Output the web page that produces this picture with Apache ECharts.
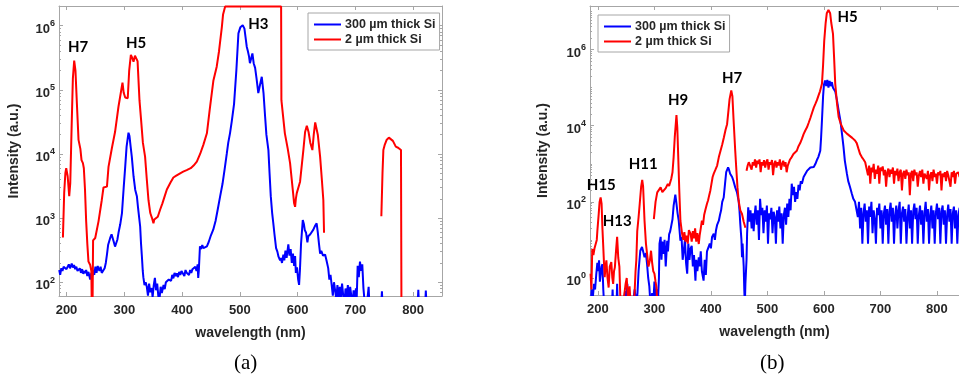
<!DOCTYPE html>
<html><head><meta charset="utf-8">
<script src="https://cdn.jsdelivr.net/npm/echarts@6/dist/echarts.min.js"></script>
<style>html,body{margin:0;padding:0;background:#fff}#c{width:959px;height:383px}</style>
</head><body><div id="c"></div>
<script>
// ---------------- data ----------------
const seriesNames = ['300 µm thick Si', '2 µm thick Si'];
const seriesColors = ['#0000ff', '#ff0000'];
const xTickLabels = [200, 300, 400, 500, 600, 700, 800];
const yTicksA = [1e2, 1e3, 1e4, 1e5, 1e6];
const yTicksB = [1e0, 1e2, 1e4, 1e6];
const captions = ['(a)', '(b)'];

const harmonicsA = ['H7', 'H5', 'H3'];
const harmonicsAWave = [220, 320.6, 532];
const harmonicsAInt = [4.7e5, 5.4e5, 1.06e6];
const harmonicsB = ['H15', 'H13', 'H11', 'H9', 'H7', 'H5'];
const harmonicsBWave = [206, 234.3, 280, 342, 437.5, 641.7];
const harmonicsBInt = [270, 31, 1000, 4.7e4, 1.8e5, 7.2e6];

// panel (a): 300 µm thick Si
const spectrumA_300um = [
[187.4,155],[189,130],[191,165],[193,150],[195,175],[198,180],[200,160],[202,175],[204,190],[206,165],
[209,195],[211,170],[213,185],[215,160],[217,175],[219,150],[221,148],[223,165],[225,140],[227,160],
[229,135],[231,150],[232,138],[234,155],[236,125],[238,145],[240,120],[241,110],[243,140],[245,125],
[246.7,155],[248,130],[250,175],[252,140],[254,180],[255,165],[257,150],[259,175],[261,140],[264,148],
[266,165],[268,200],[270,270],[272,380],[275.6,490],[278,560],[280,590],[282,420],[284,360],[286,380],
[288,460],[290,590],[293,800],[296,1200],[299,3000],[301.6,6300],[304,13000],[307.3,21500],[309,19000],
[311,13000],[313,9100],[316,4500],[319,2750],[321.8,2200],[324,1400],[327.5,740],[329,400],[330.4,260],
[332,150],[333,120],[335,90],[337,100],[339,85],[341,62],[343,95],[345,70],[347.7,81],[349,58],[351,90],
[353,117],[355,75],[357,95],[359,60],[361,55],[363,85],[365,68],[368,91],[370,78],[372,100],[375,95],
[377,110],[379,117],[381,105],[383,130],[385,115],[387,140],[389,125],[391,138],[393,120],[395,145],
[397,130],[399,150],[402,148],[404,125],[406,155],[408,140],[410,150],[412,130],[414,155],[416,140],
[418,160],[420,150],[423,175],[425,150],[427,190],[428,117],[429,150],[431,363],[433,330],[435,380],
[437,340],[440,360],[443,363],[446,420],[450,540],[454,660],[458,900],[462,1400],[466,2200],[470,3400],
[474,6000],[477.5,10200],[480,15000],[483,21000],[486,32000],[490,60000],[494,200000],[497.6,760000],
[501,950000],[505,1020000],[508,900000],[510,650000],[512,470000],[514,400000],[516,330000],[517.5,260000],
[519,245000],[521.8,370000],[524,260000],[526.5,220000],[529,150000],[532,89000],[535,120000],[538,160000],
[541,90000],[543.8,38000],[546,20000],[549.5,11500],[551.5,5000],[553.6,2200],[556,1200],[558,830],
[560,560],[562.8,340],[565,300],[567,250],[569.7,220],[571,240],[573,200],[575.4,270],[577,220],[579,310],
[581,240],[584,390],[586,260],[588,330],[590,200],[592,280],[594,180],[595.7,257],[597,140],[599,170],
[601,110],[602.6,91],[604,150],[606,400],[609,930],[611,800],[612.5,650],[614.7,590],[617,420],[618.5,520],
[620.4,490],[622,560],[625,600],[627.3,660],[630,750],[633,830],[635,600],[637,400],[639,280],[641,310],
[644,260],[647.6,270],[650,220],[653,166],[655,110],[657,130],[659,91],[661,62],[663,100],[665,102],
[667,55],[669,90],[671,50],[673,85],[675,58],[677,95],[679,62],[681,45],[683,80],[685,55],[687,90],
[689,50],[691,85],[693,62],[695,45],[697,75],[699,52],[701,80],[702.4,58],[704,180],[706,120],[708,210],
[710,150],[712,190],[714,81],[716,50],[718,30],[721,30],[723,85],[725,30],[744,30],[746,72],[748,30],
[807,30],[809,76],[811,30],[820,30],[822,74],[824,30]
];

// panel (a): 2 µm thick Si (null = no data)
const spectrumA_2um = [
[193.8,500],[196,2500],[198,5000],[199.5,6000],[202,4500],[204.7,2200],[206.5,3500],[209,30000],
[211,150000],[213.3,285000],[215.5,200000],[218,60000],[220.8,16600],[224,12000],[226,8000],[228.4,7200],
[230,6000],[232,2800],[234,900],[236,400],[238,210],[241,186],[243,150],[244.5,10],[246,450],[249.7,490],
[255.4,890],[261,1900],[264,3000],[267,2900],[270,3100],[272.7,6300],[278.5,12300],[284,22000],
[290,55000],[294,90000],[296.9,130000],[299,90000],[301.6,76000],[306,74000],[308.5,200000],[311.4,350000],
[313.5,320000],[316,275000],[318.5,340000],[320.6,350000],[323,280000],[326.3,69000],[329,35000],
[332.2,15000],[336,9100],[339,4000],[341.9,1900],[345,1200],[348,1000],[350.5,830],[352,950],[355,900],
[358,1050],[362,1350],[366,1700],[370,2200],[373.7,2800],[380,3600],[385,4300],[390,4600],[396.7,5000],
[402,5300],[408,5600],[415,6000],[420,6600],[425.6,7600],[431.3,10000],[437,14000],[443,21000],
[448,50000],[454.3,140000],[460,230000],[464,400000],[468.9,950000],[471,1500000],[474.6,2000000],
[571.5,2000000],[572,69000],[578,21000],[583,12000],[587,7200],[591.7,2750],[594,1700],[595.7,1500],
[597,2000],[598.6,2450],[604.3,3700],[610,11500],[613,22000],[616,27500],[619,22000],[622,15000],
[625.6,11500],[628,20000],[630.5,31000],[632.5,33000],[635,20000],[639,9100],[642,4000],[644.6,1900],
[645.8,590],[700,null],[745,1070],[747,5000],[748.5,11500],[751,14000],[754,16500],[758,18000],
[761.2,19000],[765,16000],[770,13000],[774,12500],[777,12000],[779,11500],[780,10]
];

// panel (b): 300 µm thick Si
const spectrumB_300um = [
[187,0.2],[189,0.5],[191,0.3],[193,0.7],[195,0.5],[197,1.2],[199,2.5],[200.5,1.5],[202,2.9],[203.5,0.8],
[205,0.8],[206.5,2],[208,2.3],[209.5,0.5],[211,0.2],[225,0.2],[226,0.5],[227,0.2],[233,0.2],[234,0.7],
[235,0.2],[246,0.2],[248,0.45],[250,0.2],[252,0.7],[254,0.2],[262,0.2],[265,0.5],[268,0.2],[270,0.4],
[272,1.55],[275,5.2],[278,6.5],[280,5],[282.5,3.5],[285,4.5],[287,2.3],[289,1],[291,0.6],[293,0.2],
[296,0.4],[298,0.2],[300,0.8],[302,0.3],[304,0.5],[306,0.2],[308,1],[309,8],[311,12],[312.5,3],[314,9],
[316.6,4.3],[318,10],[320,2],[322.6,9.5],[324,5],[326,14],[328,17],[330,18],[332,35],[334,80],[337,155],
[339,90],[341,50],[343,32],[346,9.5],[348,12],[350,3],[352,5.2],[354,10],[356,2.5],[358,1.3],[360,8],
[362,3],[364,5.9],[366,7],[368,2],[370,4],[372.6,0.85],[374,3],[376,1.5],[378.5,3.5],[380,2],[382,5],
[384,1.5],[387,0.85],[389,3],[391,1.2],[393,5],[396,5.2],[398,8],[400,6],[402,12],[405,14.5],[407,10],
[409,18],[411,25],[414,32],[416,45],[418,60],[420,100],[422.6,130],[425,300],[427,600],[430.4,800],
[432,700],[434,550],[437.5,450],[440,350],[443,240],[446,180],[449,107],[450.5,60],[452,26],[454,10],
[455,3.5],[456,8],[458,2],[459,0.5],[460,0.2],[461,0.7],[463,3],[464,14.5],[466,72],[468,30],[470,60],
[472,20],[474,50],[475.6,17],[477,40],[479,80],[481,25],[483,60],[485,10],[487,120],[489,45],[491,70],
[493,15],[495,60],[497,30],[499,80],[501,8],[503,50],[505,35],[507,70],[509,15],[511,55],[513,40],[515,8],
[517,60],[519,30],[521,75],[523,20],[525,50],[527,8],[529,45],[531,70],[533,25],[535,90],[537,40],
[539,120],[541,60],[543,300],[545,150],[547,250],[549,100],[551,180],[553,120],[555,280],[557,200],
[559,350],[561,300],[564,450],[567,500],[570,650],[573,700],[576,800],[579,900],[582,820],[585,1000],
[588,1300],[590,1500],[593.5,2200],[595,5000],[596.5,14000],[598.5,60000],[600,120000],[602,155000],
[604,110000],[606,160000],[608,100000],[610,150000],[612,110000],[614,140000],[616,100000],[618,110000],
[620,80000],[623,47000],[626,25000],[629,14000],[632,6000],[634.6,2800],[637,1200],[640.6,550],[643,350],
[646,250],[649.5,160],[652,120],[655,100],[658,90],[660,40],[662,100],[664,20],[666,70],[668,8],[670,50],
[672,90],[674,30],[676,60],[678,8],[680,75],[682,40],[684,100],[686,15],[688,60],[690,35],[692,8],
[694,70],[696,45],[698,90],[700,20],[702,60],[704,8],[706,50],[708,80],[710,25],[712,65],[714,8],
[716,55],[718,95],[720,30],[722,70],[724,8],[726,45],[728,80],[730,20],[732,60],[734,100],[736,8],
[738,50],[740,75],[742,30],[744,65],[746,8],[748,40],[750,85],[752,20],[754,60],[756,8],[758,55],
[760,90],[762,35],[764,70],[766,8],[768,45],[770,80],[772,25],[774,60],[776,8],[778,50],[780,100],
[782,30],[784,65],[786,8],[788,45],[790,80],[792,20],[794,60],[796,8],[798,50],[800,90],[802,35],
[804,70],[806,8],[808,55],[810,80],[812,25],[814,60],[816,8],[818,45],[820,85],[822,30],[824,65],
[826,8],[828,50],[830,75],[832,20],[834,60],[836,8],[838,45],[840,70]
];

// panel (b): 2 µm thick Si
const spectrumB_2um = [
[187,1.3],[188.5,0.5],[190,5.8],[192,4],[194,6],[196,6.5],[198,10],[199,17],[201.5,50],[203,100],
[204.8,130],[206.5,90],[208,20],[209.5,6.5],[211,2],[212,1.05],[213.5,2],[215,2.9],[217,1],[219,0.56],
[221,2],[223.7,2.6],[225.5,1],[227,0.7],[228.5,1.5],[230,1.9],[232,5],[234,12],[235,11],[236,3.4],
[238,2],[240,0.2],[246,0.3],[249,0.7],[251,1],[253,0.3],[256,0.6],[258,0.2],[264,0.2],[266.6,1.5],
[268,3],[269.6,17],[272,40],[274,89],[276.5,250],[278.4,380],[280,250],[282.5,32],[285,8],[287,4.3],
[289.5,2],[292,2.9],[294,5.2],[296,2.5],[298,1.5],[300,1.3],[302,0.8],[303.7,0.56],[305,0.2],
[302,null],[299,35],[302,100],[305,178],[308,200],[311,240],[314,180],[316.6,200],[320,230],[323.7,295],
[326,260],[329.7,400],[332,600],[334,1500],[336,5000],[339,19000],[340.5,9000],[342,1800],[344,200],
[346,32],[349,14.5],[351,10],[353,16],[355,9],[357,13],[359,8],[361,18],[364,14.5],[366,9],[368,17],
[370,11],[372,20],[374,9],[376,15],[378.5,7.8],[380,13],[382,20],[384,32],[386,25],[388,45],[390,60],
[393,89],[395,110],[397,150],[399,200],[401,300],[403,450],[405,550],[408,700],[411,900],[414,1500],
[417,2200],[420,3200],[423,5000],[426,8000],[428.6,11000],[431,25000],[433,50000],[436,85000],
[438,60000],[440,15000],[443,2200],[445,700],[447,240],[449,107],[452,60],[455,48],[458,30],[461,21],
[462,null],[463,660],[465,900],[467,1100],[470,1230],[472,700],[474,1100],[476,900],[478,1300],[480,800],
[482,1200],[484,1000],[486,1300],[488,600],[490,1100],[492,900],[494,1250],[496,800],[498,1100],
[500,1300],[502,700],[504,1100],[506,950],[508,1250],[510,500],[512,1000],[514,1200],[516,800],
[518,1100],[520,900],[522,1300],[524,700],[526,1000],[528,1200],[530,850],[532,1100],[534,600],[536,900],
[538,1000],[540,1300],[543,1500],[546,1800],[549,2000],[552,2200],[555,2900],[558,3500],[561,4500],
[564,6000],[567,7500],[570,9100],[573,12000],[576,16000],[579,22000],[582,30000],[585,38000],
[587.6,47000],[590,60000],[593,80000],[596.5,126000],[598.5,400000],[600.5,1700000],[603,5000000],
[605,9000000],[608,11000000],[611,9000000],[613,5000000],[616,2600000],[618,600000],[620,126000],
[623,40000],[626,17000],[630,11000],[635,7500],[640.6,6200],[645,5500],[650,4800],[655,4100],[658,3500],
[661,2500],[664,1800],[667,1500],[670,1300],[673,1100],[676,1000],[678,500],[680,900],[682,300],
[684,800],[686,600],[688,1000],[690,400],[692,700],[694,550],[696,900],[698,300],[700,800],[702,650],
[704,850],[706,500],[708,700],[710,250],[712,600],[714,750],[716,450],[718,700],[720,550],[722,800],
[724,300],[726,650],[728,500],[730,750],[732,350],[734,600],[736,700],[738,200],[740,550],[742,650],
[744,400],[746,700],[748,500],[750,600],[752,150],[754,550],[756,650],[758,350],[760,700],[762,500],
[764,600],[766,250],[768,500],[770,650],[772,450],[774,700],[776,300],[778,550],[780,600],[782,400],
[784,650],[786,200],[788,500],[790,600],[792,350],[794,700],[796,450],[798,550],[800,300],[802,600],
[804,500],[806,650],[808,200],[810,550],[812,450],[814,600],[816,350],[818,650],[820,500],[822,550],
[824,250],[826,600],[828,450],[830,650],[832,300],[834,550],[836,500],[838,600],[840,450]
];

// ---------------- chart ----------------
const FONT = '"Liberation Sans", Arial, sans-serif';
const AXIS_COL = '#a6a6a6';
const TXT_COL = '#262626';

function minorTicks(loExp, hiExp, withDecades) {
  const out = [];
  for (let k = loExp; k <= hiExp; k++) {
    for (let m = 1; m <= 9; m++) {
      if (m === 1 && !(withDecades && k % 2 !== 0)) continue;
      out.push(m * Math.pow(10, k));
    }
  }
  return out;
}
function toData(arr) { return arr.map(p => (p[1] == null ? [p[0], '-'] : p)); }

const supLabel = {
  fontFamily: FONT,
  padding: [7, 0, 0, 0],
  margin: 4,
  customValues: null,
  formatter: v => '{b|10}{s|' + Math.round(Math.log10(v)) + '}',
  rich: {
    b: { fontSize: 13, fontWeight: 'bold', color: TXT_COL, fontFamily: FONT, lineHeight: 20 },
    s: { fontSize: 9, fontWeight: 'bold', color: TXT_COL, fontFamily: FONT, lineHeight: 9, verticalAlign: 'top' }
  }
};

function xAxes(grid, min, max) {
  return [
    { type: 'value', gridIndex: grid, min: min, max: max, position: 'bottom',
      axisLine: { show: true, onZero: false, lineStyle: { color: AXIS_COL, width: 1 } },
      axisTick: { show: true, inside: true, length: 4, customValues: xTickLabels, lineStyle: { color: AXIS_COL } },
      axisLabel: { customValues: xTickLabels, fontFamily: FONT, fontSize: 13, fontWeight: 'bold', color: TXT_COL, margin: 8 },
      splitLine: { show: false },
      name: 'wavelength (nm)', nameLocation: 'middle', nameGap: 30,
      nameTextStyle: { fontFamily: FONT, fontSize: 14, fontWeight: 'bold', color: TXT_COL } },
    { type: 'value', gridIndex: grid, min: min, max: max, position: 'top',
      axisLine: { show: true, onZero: false, lineStyle: { color: AXIS_COL, width: 1 } },
      axisTick: { show: true, inside: true, length: 4, customValues: xTickLabels, lineStyle: { color: AXIS_COL } },
      axisLabel: { show: false }, splitLine: { show: false } }
  ];
}

function yAxes(grid, min, max, majors, minors, withRight, nameGap) {
  const lbl = Object.assign({}, supLabel, { customValues: majors });
  const list = [
    { type: 'log', logBase: 10, gridIndex: grid, min: min, max: max, position: 'left',
      axisLine: { show: true, onZero: false, lineStyle: { color: AXIS_COL, width: 1 } },
      axisTick: { show: true, inside: true, length: 4, customValues: majors, lineStyle: { color: AXIS_COL } },
      axisLabel: lbl, splitLine: { show: false }, minorTick: { show: false },
      name: 'Intensity (a.u.)', nameLocation: 'middle', nameGap: nameGap, nameRotate: 90,
      nameTextStyle: { fontFamily: FONT, fontSize: 14, fontWeight: 'bold', color: TXT_COL } },
    { type: 'log', logBase: 10, gridIndex: grid, min: min, max: max, position: 'left',
      axisLine: { show: false, onZero: false },
      axisTick: { show: true, inside: true, length: 2, customValues: minors, lineStyle: { color: AXIS_COL } },
      axisLabel: { show: false }, splitLine: { show: false } }
  ];
  if (withRight) {
    list.push(
      { type: 'log', logBase: 10, gridIndex: grid, min: min, max: max, position: 'right',
        axisLine: { show: true, onZero: false, lineStyle: { color: AXIS_COL, width: 1 } },
        axisTick: { show: true, inside: true, length: 4, customValues: majors, lineStyle: { color: AXIS_COL } },
        axisLabel: { show: false }, splitLine: { show: false } },
      { type: 'log', logBase: 10, gridIndex: grid, min: min, max: max, position: 'right',
        axisLine: { show: false, onZero: false },
        axisTick: { show: true, inside: true, length: 2, customValues: minors, lineStyle: { color: AXIS_COL } },
        axisLabel: { show: false }, splitLine: { show: false } });
  }
  return list;
}

function harmonicMarks(names, waves, ints) {
  return {
    symbol: 'circle', symbolSize: 1, silent: true,
    itemStyle: { color: 'rgba(0,0,0,0)' },
    label: { show: true, position: 'inside', formatter: '{b}', fontFamily: 'Lato, "Open Sans", sans-serif',
             fontWeight: 'bold', fontSize: 15, color: '#000' },
    data: names.map((n, i) => ({ name: n, coord: [waves[i], ints[i]] }))
  };
}

function lineSeries(name, color, data, xi, yi, marks) {
  const s = { name: name, type: 'line', xAxisIndex: xi, yAxisIndex: yi, data: toData(data),
    symbol: 'none', showSymbol: false, clip: true, connectNulls: false,
    color: color, lineStyle: { color: color, width: 2 }, itemStyle: { color: color } };
  if (marks) s.markPoint = marks;
  return s;
}

const legendBase = {
  data: seriesNames, orient: 'vertical', icon: 'rect', itemWidth: 27, itemHeight: 2, itemGap: 2,
  backgroundColor: '#fff', borderColor: AXIS_COL, borderWidth: 1, borderRadius: 0, padding: [5, 4, 4, 6],
  textStyle: { fontFamily: FONT, fontSize: 12.5, fontWeight: 'bold', color: TXT_COL, padding: [0, 0, 0, -1] },
  selectedMode: false
};

const chart = echarts.init(document.getElementById('c'), null, { renderer: 'canvas' });
chart.setOption({
  animation: false,
  backgroundColor: '#fff',
  grid: [
    { left: 59, top: 6, width: 383, height: 290, containLabel: false },
    { left: 590, top: 6, width: 369, height: 289, containLabel: false }
  ],
  xAxis: xAxes(0, 187, 850).concat(xAxes(1, 186, 839)),
  yAxis: yAxes(0, 61, 2.03e6, yTicksA, minorTicks(1, 6, false).filter(v => v >= 61 && v <= 2.03e6), true, 38)
    .concat(yAxes(1, 0.357, 1.4e7, yTicksB, minorTicks(-1, 7, true).filter(v => v >= 0.357 && v <= 1.4e7), false, 40)),
  legend: [
    Object.assign({}, legendBase, { left: 308, top: 13 }),
    Object.assign({}, legendBase, { left: 598, top: 15 })
  ],
  title: [
    { text: captions[0], left: 229, top: 348, textStyle: { fontFamily: '"Liberation Serif", serif', fontSize: 21, fontWeight: 'normal', color: '#000' } },
    { text: captions[1], left: 755, top: 348, textStyle: { fontFamily: '"Liberation Serif", serif', fontSize: 21, fontWeight: 'normal', color: '#000' } }
  ],
  series: [
    lineSeries(seriesNames[0], seriesColors[0], spectrumA_300um, 0, 0),
    lineSeries(seriesNames[1], seriesColors[1], spectrumA_2um, 0, 0, harmonicMarks(harmonicsA, harmonicsAWave, harmonicsAInt)),
    lineSeries(seriesNames[0], seriesColors[0], spectrumB_300um, 2, 4),
    lineSeries(seriesNames[1], seriesColors[1], spectrumB_2um, 2, 4, harmonicMarks(harmonicsB, harmonicsBWave, harmonicsBInt))
  ]
});
</script>
</body></html>
